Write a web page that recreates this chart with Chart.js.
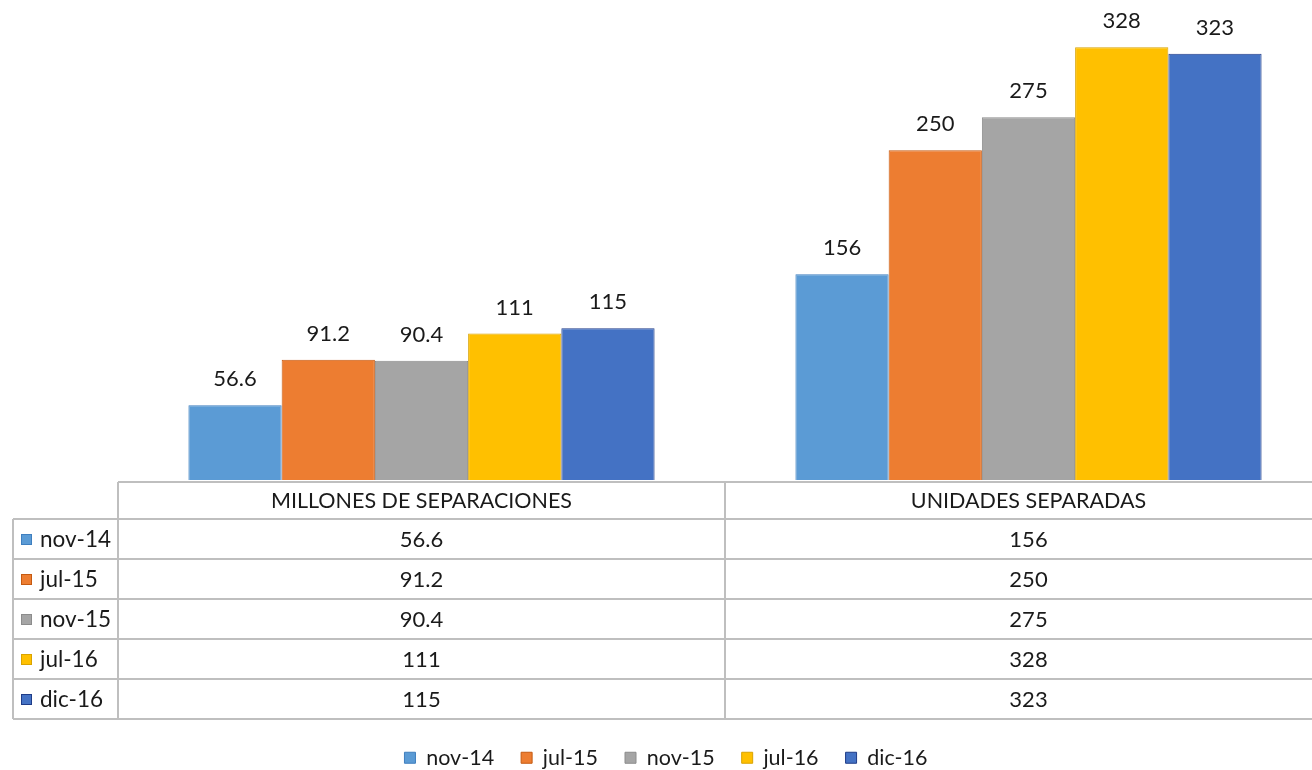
<!DOCTYPE html>
<html>
<head>
<meta charset="utf-8">
<script src="https://cdn.jsdelivr.net/npm/chart.js@4.4.1/dist/chart.umd.min.js"></script>
<style>
    html, body { margin: 0; padding: 0; background: #ffffff; overflow: hidden; }
    #wrap { width: 1332px; height: 770px; }
</style>
</head>
<body>
<div id="wrap"><canvas id="chart"></canvas></div>
<script>
const categories = ['MILLONES DE SEPARACIONES', 'UNIDADES SEPARADAS'];
const seriesNames = ['nov-14', 'jul-15', 'nov-15', 'jul-16', 'dic-16'];
const nov14 = [56.6, 156];
const jul15 = [91.2, 250];
const nov15 = [90.4, 275];
const jul16 = [111, 328];
const dic16 = [115, 323];

const seriesValues = [nov14, jul15, nov15, jul16, dic16];
const fills = ['#5B9BD5', '#ED7D31', '#A5A5A5', '#FFC000', '#4472C4'];
const edges = ['#3F7FBF', '#C55A11', '#8C8C8C', '#D9A300', '#1F3C88'];

const FONT = 'Lato, "Open Sans", sans-serif';
const TEXT = '#1a1a1a';
const GRID = '#BFBFBF';
const VISIBLE_W = 1312;

// draws value labels above bars and the data table below the plot
const tablePlugin = {
    id: 'dataTable',
    afterDatasetsDraw(chart) {
        const ctx = chart.ctx;
        ctx.save();
        ctx.fillStyle = TEXT;
        ctx.font = '22px ' + FONT;
        ctx.textAlign = 'center';
        ctx.textBaseline = 'middle';
        chart.data.datasets.forEach((ds, i) => {
            chart.getDatasetMeta(i).data.forEach((bar, j) => {
                ctx.fillText(String(ds.data[j]), bar.x, bar.y - 26);
            });
        });
        ctx.restore();
    },
    afterDraw(chart) {
        const ctx = chart.ctx;
        const xs = chart.scales.x;
        const area = chart.chartArea;
        const catW = (xs.right - xs.left) / categories.length;
        const top = area.bottom + 2;
        const headH = 37;
        const rowH = 40;
        const labelLeft = 13;
        const right = VISIBLE_W;
        const bottom = top + headH + rowH * seriesNames.length;

        ctx.save();
        ctx.strokeStyle = GRID;
        ctx.lineWidth = 2;
        ctx.beginPath();
        ctx.moveTo(xs.left, top); ctx.lineTo(right, top);
        for (let r = 0; r <= seriesNames.length; r++) {
            const y = top + headH + r * rowH;
            ctx.moveTo(labelLeft, y); ctx.lineTo(right, y);
        }
        ctx.moveTo(labelLeft, top + headH); ctx.lineTo(labelLeft, bottom);
        for (let c = 0; c < categories.length; c++) {
            const x = xs.left + c * catW;
            ctx.moveTo(x, top); ctx.lineTo(x, bottom);
        }
        ctx.stroke();

        ctx.fillStyle = TEXT;
        ctx.textBaseline = 'middle';
        ctx.textAlign = 'center';
        ctx.font = '21.5px ' + FONT;
        categories.forEach((c, i) => {
            ctx.fillText(c, xs.getPixelForValue(i), top + headH / 2 + 1);
        });
        ctx.font = '22px ' + FONT;
        seriesValues.forEach((vals, r) => {
            const cy = top + headH + r * rowH + rowH / 2 + 1;
            vals.forEach((v, i) => {
                ctx.fillText(String(v), xs.getPixelForValue(i), cy);
            });
        });

        // row labels with colour keys
        ctx.textAlign = 'left';
        ctx.font = '22.5px ' + FONT;
        seriesNames.forEach((name, r) => {
            const cy = top + headH + r * rowH + rowH / 2;
            ctx.fillStyle = fills[r];
            ctx.fillRect(21, cy - 5, 11, 11);
            ctx.strokeStyle = edges[r];
            ctx.lineWidth = 1;
            ctx.strokeRect(21.5, cy - 4.5, 10, 10);
            ctx.fillStyle = TEXT;
            ctx.fillText(name, 40, cy + 1);
        });
        ctx.restore();
    }
};

new Chart(document.getElementById('chart'), {
    type: 'bar',
    data: {
        labels: categories,
        datasets: seriesNames.map((name, i) => ({
            label: name,
            data: seriesValues[i],
            backgroundColor: fills[i],
            borderColor: edges[i],
            borderWidth: 1,
            categoryPercentage: 0.768,
            barPercentage: 1.0
        }))
    },
    options: {
        responsive: true,
        maintainAspectRatio: false,
        animation: false,
        layout: {
            padding: { left: 0, right: 0, top: 5, bottom: 0 }
        },
        scales: {
            x: {
                display: true,
                grid: { display: false },
                border: { display: false },
                ticks: { display: false },
                afterFit: scale => { scale.height = 240; }
            },
            y: {
                display: true,
                min: 0,
                max: 360,
                grid: { display: false },
                border: { display: false },
                ticks: { display: false },
                afterFit: scale => { scale.width = 118; }
            }
        },
        plugins: {
            legend: {
                position: 'bottom',
                maxHeight: 50,
                labels: {
                    color: TEXT,
                    font: { family: FONT, size: 21.5 },
                    boxWidth: 11,
                    boxHeight: 11,
                    padding: 27,
                    generateLabels: chart => seriesNames.map((name, i) => ({
                        text: name,
                        fillStyle: fills[i],
                        strokeStyle: edges[i],
                        lineWidth: 1,
                        fontColor: TEXT,
                        datasetIndex: i
                    }))
                }
            },
            tooltip: { enabled: false }
        }
    },
    plugins: [tablePlugin]
});
</script>
</body>
</html>
